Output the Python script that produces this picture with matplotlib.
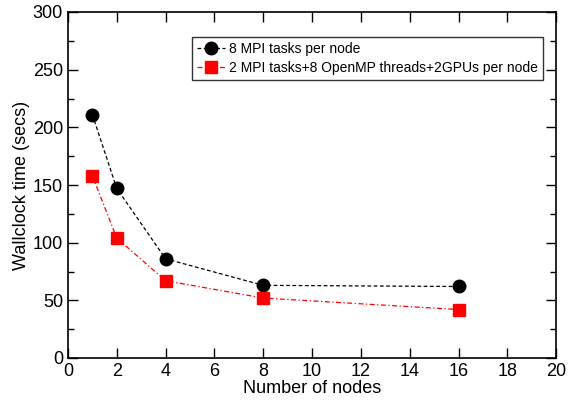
import matplotlib
matplotlib.use("Agg")
import matplotlib.pyplot as plt
from matplotlib.ticker import MultipleLocator

plt.rcParams['font.family'] = ['Liberation Sans', 'DejaVu Sans']

nodes = [1, 2, 4, 8, 16]
mpi_only = [211, 147, 86, 63, 62]
hybrid_gpu = [158, 104, 67, 52, 42]

fig = plt.figure(figsize=(5.71, 4.0), dpi=100)
ax = fig.add_axes([0.119, 0.105, 0.855, 0.865])

ax.plot(nodes, mpi_only, color='black', linestyle=(0, (3, 2)), linewidth=0.9,
        marker='o', markersize=9, label='8 MPI tasks per node')
ax.plot(nodes, hybrid_gpu, color='red', linestyle=(0, (4, 2, 1, 2)), linewidth=0.9,
        marker='s', markersize=8, label='2 MPI tasks+8 OpenMP threads+2GPUs per node')

ax.set_xlim(0, 20)
ax.set_ylim(0, 300)
ax.xaxis.set_major_locator(MultipleLocator(2))
ax.yaxis.set_major_locator(MultipleLocator(50))
ax.yaxis.set_minor_locator(MultipleLocator(25))
ax.tick_params(which='both', direction='in', top=True, right=True, labelsize=13)
ax.tick_params(which='major', length=7, width=1)
ax.tick_params(which='minor', length=4, width=1)
for s in ax.spines.values():
    s.set_linewidth(1.2)

ax.set_xlabel('Number of nodes', fontsize=13, labelpad=0)
ax.set_ylabel('Wallclock time (secs)', fontsize=13, labelpad=2)

leg = ax.legend(loc='upper right', bbox_to_anchor=(0.973, 0.928), fontsize=10,
                frameon=True, fancybox=False, edgecolor='black', handlelength=2,
                borderpad=0.35, labelspacing=0.4, handletextpad=0.3, borderaxespad=0)
leg.get_frame().set_linewidth(1)

fig.savefig('out.png', dpi=100)
